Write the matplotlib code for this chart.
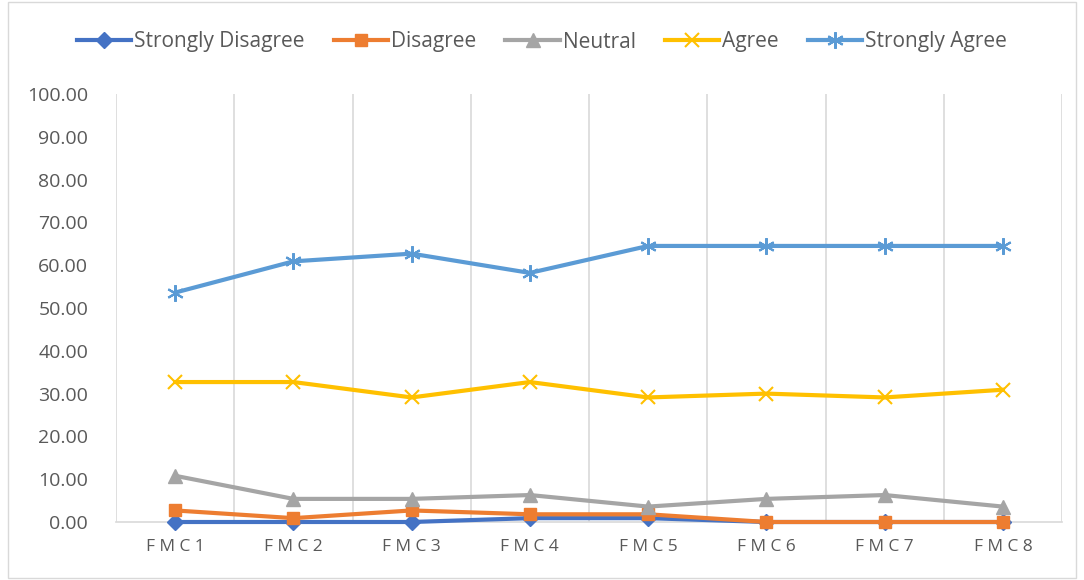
import matplotlib
matplotlib.use("Agg")
import matplotlib.pyplot as plt
from matplotlib.patches import Rectangle

categories = ["FMC1", "FMC2", "FMC3", "FMC4", "FMC5", "FMC6", "FMC7", "FMC8"]
strongly_disagree = [0.00, 0.00, 0.00, 0.90, 0.90, 0.00, 0.00, 0.00]
disagree = [2.70, 0.90, 2.70, 1.80, 1.80, 0.00, 0.00, 0.00]
neutral = [10.80, 5.40, 5.40, 6.30, 3.60, 5.40, 6.30, 3.60]
agree = [32.70, 32.70, 29.10, 32.70, 29.10, 30.00, 29.10, 30.90]
strongly_agree = [53.60, 60.90, 62.70, 58.20, 64.50, 64.50, 64.50, 64.50]

series = [
    ("Strongly Disagree", strongly_disagree, "#4472C4", "D", 8),
    ("Disagree", disagree, "#ED7D31", "s", 9),
    ("Neutral", neutral, "#A5A5A5", "^", 10),
    ("Agree", agree, "#FFC000", "x", 10),
    ("Strongly Agree", strongly_agree, "#5B9BD5", (6, 2, 0), 12),
]

plt.rcParams['font.family'] = ['Open Sans', 'DejaVu Sans']
text_color = "#595959"

fig = plt.figure(figsize=(10.84, 5.80), dpi=100)
ax = fig.add_axes([116/1084, 1 - 522/580, (1062-116)/1084, (522-94)/580])

x = list(range(len(categories)))
for name, vals, color, marker, ms in series:
    ax.plot(x, vals, color=color, lw=3.0, marker=marker, markersize=ms,
            markeredgewidth=1.5 if marker in ("x", (6, 2, 0)) else 1,
            markerfacecolor=color, markeredgecolor=color, label=name,
            solid_joinstyle='round', clip_on=False, zorder=3)

ax.set_xlim(-0.5, len(categories) - 0.5)
ax.set_ylim(0, 100)
ax.set_yticks(range(0, 101, 10))
ax.set_yticklabels([f"{v:.2f}" for v in range(0, 101, 10)], color=text_color, fontsize=14)
ax.set_xticks(x)
ax.set_xticklabels(["\u2005".join(c) for c in categories], color=text_color, fontsize=12.5,
                   family=['Open Sans', 'DejaVu Sans'])
ax.tick_params(axis='both', length=0)
ax.tick_params(axis='y', pad=20)
ax.tick_params(axis='x', pad=12)

for b in [i - 0.5 for i in range(len(categories) + 1)]:
    ax.axvline(b, color="#D9D9D9", lw=1.2, zorder=1)
for s in ["top", "right", "left"]:
    ax.spines[s].set_visible(False)
ax.spines["bottom"].set_color("#D9D9D9")
ax.spines["bottom"].set_linewidth(1.2)

leg = fig.legend(loc="center", bbox_to_anchor=(0.5, 1 - 42/580), ncol=5, frameon=False,
                 fontsize=15, handlelength=2.6, columnspacing=1.4, handletextpad=0.15)
for t in leg.get_texts():
    t.set_color(text_color)

fig.patches.append(Rectangle((8/1084, 2/580), 1 - 16/1084, 1 - 4/580, transform=fig.transFigure,
                             fill=False, edgecolor="#D9D9D9", lw=1))

fig.savefig("out.png", dpi=100)
